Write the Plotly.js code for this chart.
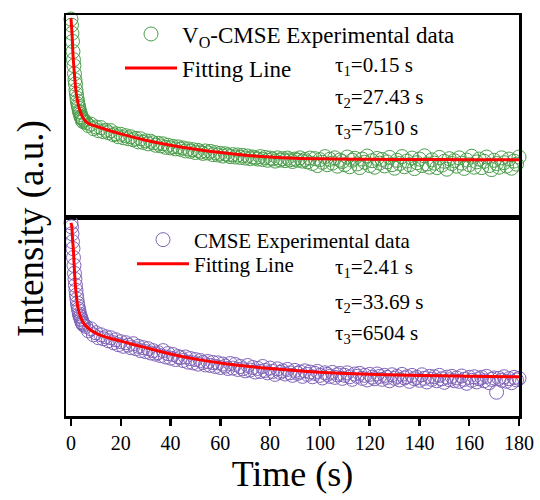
<!DOCTYPE html>
<html>
<head>
<meta charset="utf-8">
<script src="https://cdn.plot.ly/plotly-3.0.1.min.js"></script>
<style>html,body{margin:0;padding:0;background:#fff;}#chart{width:540px;height:500px;}</style>
</head>
<body>
<div id="chart"></div>
<script>
// Sample times (s)
const time = [0,0.2,0.4,0.6,0.8,1,1.2,1.4,1.6,1.8,2,2.2,2.4,2.6,2.8,3,3.2,3.4,3.6,3.8,4,4.2,4.4,4.6,4.8,
5,6,7,8,9,10,11,12,13,14,15,16,17,18,19,20,21,22,23,24,25,26,27,28,29,30,31,32,33,34,35,36,37,38,39,40,
41,42,43,44,45,46,47,48,49,50,51,52,53,54,55,56,57,58,59,60,61,62,63,64,65,66,67,68,69,70,
71,72,73,74,75,76,77,78,79,80,81,82,83,84,85,86,87,88,89,90,91,92,93,94,95,96,97,98,99,100,
101,102,103,104,105,106,107,108,109,110,111,112,113,114,115,116,117,118,119,120,
121,122,123,124,125,126,127,128,129,130,131,132,133,134,135,136,137,138,139,140,
141,142,143,144,145,146,147,148,149,150,151,152,153,154,155,156,157,158,159,160,
161,162,163,164,165,166,167,168,169,170,171,172,173,174,175,176,177,178,179,180];

// VO-CMSE experimental intensity (normalized)
const voData = [0.98,0.95,0.91,0.87,0.82,0.78,0.75,0.71,0.68,0.66,0.63,0.61,0.59,0.575,0.56,0.55,0.54,0.525,0.52,0.51,0.50,0.495,0.49,0.48,0.475,
0.485,0.47,0.455,0.462,0.44,0.448,0.43,0.445,0.425,0.432,
0.42,0.43,0.41,0.415,0.40,0.412,0.395,0.405,0.39,0.40,
0.385,0.392,0.375,0.39,0.372,0.38,0.365,0.378,0.37,0.358,
0.368,0.355,0.365,0.348,0.358,0.345,0.352,0.34,0.35,0.338,
0.345,0.33,0.34,0.328,0.336,0.322,0.333,0.325,0.318,0.33,
0.32,0.328,0.312,0.322,0.31,0.318,0.305,0.316,0.31,0.302,
0.312,0.30,0.31,0.298,0.308,0.295,0.305,0.292,0.30,0.296,
0.29,0.302,0.288,0.298,0.284,0.295,0.29,0.28,0.296,0.285,
0.292,0.282,0.295,0.286,0.278,0.29,0.284,0.296,0.28,0.288,
0.276,0.295,0.268,0.292,0.258,0.287,0.274,0.302,0.262,0.289,
0.27,0.296,0.255,0.285,0.278,0.262,0.30,0.252,0.284,0.294,
0.266,0.248,0.29,0.274,0.305,0.258,0.282,0.25,0.293,0.27,
0.288,0.256,0.276,0.298,0.262,0.245,0.284,0.268,0.302,0.252,
0.28,0.262,0.295,0.243,0.272,0.29,0.258,0.306,0.266,0.25,
0.286,0.27,0.248,0.298,0.26,0.279,0.24,0.292,0.268,0.282,
0.255,0.296,0.27,0.244,0.285,0.262,0.304,0.25,0.276,0.29,
0.248,0.279,0.30,0.258,0.238,0.284,0.268,0.25,0.296,0.272,
0.255,0.29,0.245,0.28,0.265,0.30];

// CMSE experimental intensity (normalized)
const cmseData = [0.975,0.955,0.92,0.88,0.845,0.80,0.76,0.72,0.69,0.66,0.635,0.61,0.59,0.57,0.555,0.54,0.53,0.515,0.505,0.50,0.49,0.485,0.475,0.47,0.465,
0.46,0.452,0.43,0.44,0.41,0.42,0.395,0.41,0.39,0.40,
0.38,0.395,0.37,0.385,0.36,0.375,0.352,0.37,0.358,0.345,
0.365,0.34,0.352,0.33,0.345,0.325,0.34,0.318,0.33,0.312,
0.32,0.305,0.33,0.298,0.315,0.292,0.31,0.285,0.30,0.295,
0.28,0.298,0.272,0.29,0.268,0.285,0.262,0.28,0.27,0.258,
0.275,0.255,0.27,0.25,0.268,0.245,0.262,0.252,0.24,0.265,
0.242,0.26,0.235,0.25,0.238,0.228,0.255,0.232,0.245,0.222,
0.24,0.225,0.25,0.23,0.218,0.242,0.225,0.21,0.238,0.22,
0.228,0.212,0.235,0.218,0.205,0.23,0.215,0.222,0.20,0.228,
0.21,0.222,0.198,0.215,0.225,0.205,0.192,0.218,0.21,0.20,
0.22,0.195,0.208,0.215,0.19,0.205,0.218,0.198,0.185,0.212,
0.20,0.215,0.19,0.205,0.182,0.21,0.196,0.188,0.212,0.20,
0.185,0.205,0.195,0.178,0.208,0.19,0.20,0.182,0.21,0.192,
0.198,0.175,0.205,0.188,0.195,0.18,0.208,0.19,0.172,0.20,
0.185,0.198,0.178,0.205,0.188,0.17,0.196,0.183,0.20,0.178,
0.192,0.175,0.202,0.185,0.165,0.195,0.18,0.198,0.172,0.188,
0.195,0.178,0.20,0.168,0.185,0.192,0.12,0.19,0.18,0.198,
0.175,0.188,0.168,0.195,0.182,0.19];

// Fitting lines
const voFitT = [0,0.25,0.5,0.75,1,1.5,2,2.5,3,4,5,6,8,10,15,20,30,40,50,60,70,80,90,100,120,140,160,180];
const voFit  = [0.985,0.94,0.89,0.82,0.77,0.69,0.625,0.585,0.555,0.515,0.49,0.475,0.46,0.452,0.432,0.414,0.383,0.358,0.338,0.322,0.309,0.300,0.294,0.291,0.289,0.288,0.287,0.287];
const cmseFitT = [0,0.3,0.6,1,1.5,2,2.5,3,4,5,6,8,10,12,15,20,25,30,40,50,60,70,80,90,100,120,140,160,180];
const cmseFit  = [0.975,0.96,0.90,0.83,0.71,0.625,0.57,0.535,0.495,0.47,0.455,0.433,0.418,0.407,0.395,0.378,0.361,0.345,0.313,0.287,0.268,0.252,0.240,0.230,0.221,0.211,0.205,0.201,0.198];

const voTau = ['0.15','27.43','7510'];
const cmseTau = ['2.41','33.69','6504'];
const xTicks = [0,20,40,60,80,100,120,140,160,180];

const serif = '"Liberation Serif", "Times New Roman", serif';
const green = '#4a9d4a', purple = '#7f63b8', red = '#ff0000';

const traces = [
  {x: time, y: voData, type: 'scatter', mode: 'markers', name: 'V<sub>O</sub>-CMSE Experimental data',
   marker: {symbol: 'circle-open', size: 14, color: green, line: {width: 1, color: green}},
   xaxis: 'x', yaxis: 'y', legend: 'legend', cliponaxis: false},
  {x: voFitT, y: voFit, type: 'scatter', mode: 'lines', name: 'Fitting Line',
   line: {color: red, width: 3, shape: 'spline'}, xaxis: 'x', yaxis: 'y', legend: 'legend3'},
  {x: time, y: cmseData, type: 'scatter', mode: 'markers', name: 'CMSE Experimental data',
   marker: {symbol: 'circle-open', size: 14, color: purple, line: {width: 1, color: purple}},
   xaxis: 'x2', yaxis: 'y2', legend: 'legend2', cliponaxis: false},
  {x: cmseFitT, y: cmseFit, type: 'scatter', mode: 'lines', name: 'Fitting Line',
   line: {color: red, width: 3, shape: 'spline'}, xaxis: 'x2', yaxis: 'y2', legend: 'legend4'}
];

const annotations = [];
const topY = [0.872, 0.793, 0.716];
const botY = [0.37, 0.282, 0.205];
for (let i = 0; i < 3; i++) {
  annotations.push({xref: 'paper', yref: 'paper', x: 0.589, y: topY[i], xanchor: 'left', yanchor: 'middle',
    showarrow: false, text: 'τ<sub>' + (i+1) + '</sub>=' + voTau[i] + ' s', font: {family: serif, size: 21, color: '#000'}});
  annotations.push({xref: 'paper', yref: 'paper', x: 0.589, y: botY[i], xanchor: 'left', yanchor: 'middle',
    showarrow: false, text: 'τ<sub>' + (i+1) + '</sub>=' + cmseTau[i] + ' s', font: {family: serif, size: 21, color: '#000'}});
}
annotations.push({xref: 'paper', yref: 'paper', x: (31 - 66) / 453, y: (416 - 229) / 401, xanchor: 'center', yanchor: 'middle',
  textangle: -90, showarrow: false, text: 'Intensity (a.u.)', font: {family: serif, size: 37, color: '#000'}});

const axisBase = {showline: true, linecolor: '#000', linewidth: 2.5, mirror: true, showgrid: false, zeroline: false};
const legBase = {xanchor: 'left', yanchor: 'middle', bgcolor: 'rgba(0,0,0,0)', borderwidth: 0, itemwidth: 52};

const layout = {
  width: 540, height: 500,
  margin: {l: 66, r: 21, t: 15, b: 84},
  paper_bgcolor: '#fff', plot_bgcolor: '#fff',
  font: {family: serif, color: '#000'},
  showlegend: true,
  xaxis: Object.assign({}, axisBase, {domain: [0, 1], range: [-2, 180], anchor: 'y', showticklabels: false, ticks: ''}),
  yaxis: Object.assign({}, axisBase, {domain: [0.494, 1], range: [0, 1], anchor: 'x', showticklabels: false, ticks: ''}),
  xaxis2: Object.assign({}, axisBase, {domain: [0, 1], range: [-2, 180], anchor: 'y2', tickvals: xTicks, ticktext: xTicks.map(String),
    ticks: 'outside', ticklen: 7, tickwidth: 2.5, tickcolor: '#000', tickfont: {family: serif, size: 20, color: '#000'},
    title: {text: 'Time (s)', font: {family: serif, size: 36, color: '#000'}, standoff: 9}}),
  yaxis2: Object.assign({}, axisBase, {domain: [0, 0.494], range: [0, 1], anchor: 'x2', showticklabels: false, ticks: ''}),
  legend: Object.assign({}, legBase, {x: (120 - 66) / 453, y: 0.9526, font: {family: serif, size: 23, color: '#000'}}),
  legend3: Object.assign({}, legBase, {x: (120 - 66) / 453, y: 0.8678, font: {family: serif, size: 23, color: '#000'}}),
  legend2: Object.assign({}, legBase, {x: (132 - 66) / 453, y: 0.4389, font: {family: serif, size: 21, color: '#000'}}),
  legend4: Object.assign({}, legBase, {x: (132 - 66) / 453, y: 0.379, font: {family: serif, size: 21, color: '#000'}}),
  annotations: annotations
};

Plotly.newPlot('chart', traces, layout, {staticPlot: true, displayModeBar: false});
</script>
</body>
</html>
